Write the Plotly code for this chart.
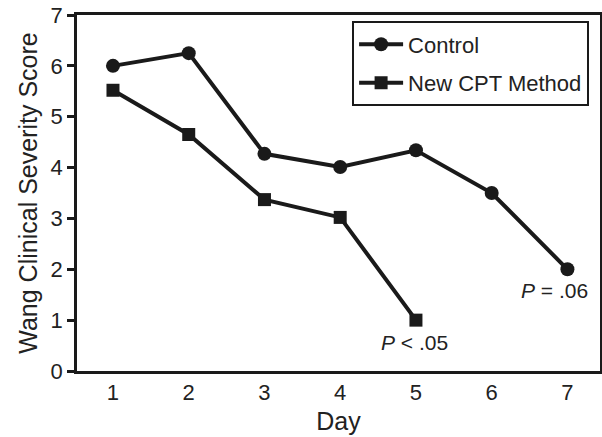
import plotly.graph_objects as go

days_control = [1, 2, 3, 4, 5, 6, 7]
control = [6.0, 6.25, 4.27, 4.01, 4.34, 3.5, 2.0]
days_cpt = [1, 2, 3, 4, 5]
cpt = [5.52, 4.65, 3.37, 3.02, 1.0]
x_ticks = [1, 2, 3, 4, 5, 6, 7]
y_ticks = [0, 1, 2, 3, 4, 5, 6, 7]

FONT = "Liberation Sans, Arial, Helvetica, sans-serif"
INK = "#1a1a1a"
TXT = "#222"

fig = go.Figure()
fig.add_trace(go.Scatter(
    x=days_control, y=control, mode="lines+markers", name="Control",
    line=dict(color=INK, width=4), legendgroup="a",
    marker=dict(symbol="circle", size=14, color=INK),
))
fig.add_trace(go.Scatter(
    x=days_cpt, y=cpt, mode="lines+markers", name="New CPT Method",
    line=dict(color=INK, width=4), legendgroup="b",
    marker=dict(symbol="square", size=13, color=INK),
))

fig.add_annotation(x=days_control[-1], y=control[-1], xref="x", yref="y",
                   text="<i>P</i> = .06", showarrow=False,
                   xshift=-13, yshift=-21,
                   font=dict(family=FONT, size=21, color=TXT))
fig.add_annotation(x=days_cpt[-1], y=cpt[-1], xref="x", yref="y",
                   text="<i>P</i> < .05", showarrow=False,
                   xshift=-1, yshift=-22,
                   font=dict(family=FONT, size=21, color=TXT))

fig.update_layout(
    width=602, height=437,
    margin=dict(l=77, r=2, t=15, b=66, autoexpand=False),
    paper_bgcolor="white", plot_bgcolor="white",
    font=dict(family=FONT, color=TXT),
    showlegend=True,
    legend=dict(
        x=0.526, y=0.982, xanchor="left", yanchor="top",
        bordercolor=INK, borderwidth=2, bgcolor="white",
        font=dict(family=FONT, size=22, color=TXT),
        traceorder="grouped", tracegroupgap=7,
        itemwidth=44,
    ),
    xaxis=dict(
        range=[0.525, 7.43], tickvals=x_ticks, ticktext=[str(v) for v in x_ticks],
        showgrid=False, zeroline=False, showline=True, linecolor=INK, linewidth=2.5,
        mirror=True, ticks="", ticklabelstandoff=0,
        tickfont=dict(family=FONT, size=22, color=TXT),
        title=dict(text="Day", font=dict(family=FONT, size=25, color=TXT), standoff=9),
    ),
    yaxis=dict(
        range=[0, 7], tickvals=y_ticks, ticktext=[str(v) for v in y_ticks],
        showgrid=False, zeroline=False, showline=True, linecolor=INK, linewidth=2.5,
        mirror=True, ticks="outside", ticklen=7, tickwidth=2.5, tickcolor=INK,
        tickfont=dict(family=FONT, size=22, color=TXT),
        title=dict(text="Wang Clinical Severity Score", font=dict(family=FONT, size=25, color=TXT), standoff=6),
    ),
)

fig.write_html("out.html", config={"displayModeBar": False},
               post_script="document.body.style.margin='0';document.body.style.overflow='hidden';")
